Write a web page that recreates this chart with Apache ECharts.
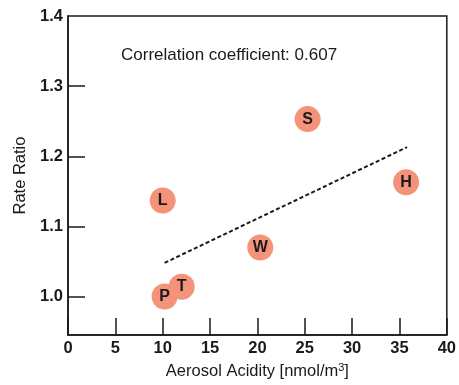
<!DOCTYPE html>
<html>
<head>
<meta charset="utf-8">
<script src="https://cdn.jsdelivr.net/npm/echarts@6/dist/echarts.min.js"></script>
<style>
  html, body { margin: 0; padding: 0; background: #fff; }
  #chart { width: 459px; height: 385px; }
</style>
</head>
<body>
<div id="chart"></div>
<script>
// Site labels, aerosol acidity (nmol/m3) and rate ratio per site
const sites = ['P', 'T', 'L', 'W', 'S', 'H'];
const acidity = [10.2, 12.0, 10.0, 20.3, 25.3, 35.7];
const rateRatio = [1.000, 1.014, 1.137, 1.070, 1.253, 1.163];

// Fitted trend line end points
const trendX = [10.2, 35.8];
const trendY = [1.048, 1.213];

const yTicks = [1.0, 1.1, 1.2, 1.3, 1.4];
const correlation = '0.607';

const FONT = '"Liberation Sans", Arial, Helvetica, sans-serif';
const INK = '#1a1a1a';

const chart = echarts.init(document.getElementById('chart'));

chart.setOption({
  animation: false,
  backgroundColor: '#fff',
  textStyle: { fontFamily: FONT },
  title: {
    text: 'Correlation coefficient: ' + correlation,
    left: 116,
    top: 42,
    textStyle: { fontFamily: FONT, fontSize: 17, fontWeight: 'normal', color: INK }
  },
  grid: {
    left: 68, right: 11, top: 16, bottom: 46,
    show: true, borderColor: INK, borderWidth: 1.5, backgroundColor: 'transparent'
  },
  xAxis: {
    type: 'value',
    min: 0, max: 40, interval: 5,
    name: 'Aerosol Acidity [nmol/m{sup|3}]',
    nameLocation: 'middle',
    nameGap: 26,
    nameTextStyle: {
      fontFamily: FONT, fontSize: 16.5, color: INK,
      rich: { sup: { fontFamily: FONT, fontSize: 11, color: INK, verticalAlign: 'top', padding: [0, 0, 8, 0] } }
    },
    axisLine: { show: true, lineStyle: { color: INK, width: 1.5 } },
    axisTick: { show: true, inside: true, length: 17, lineStyle: { color: INK, width: 1.5 } },
    axisLabel: { margin: 5, fontFamily: FONT, fontSize: 16.5, fontWeight: 'bold', color: INK },
    splitLine: { show: false }
  },
  yAxis: {
    type: 'value',
    min: 0.945, max: 1.4,
    name: 'Rate Ratio',
    nameLocation: 'middle',
    nameGap: 34,
    nameTextStyle: { fontFamily: FONT, fontSize: 16.5, color: INK },
    axisLine: { show: true, lineStyle: { color: INK, width: 1.5 } },
    axisTick: {
      show: true, inside: true, length: 17,
      customValues: yTicks.slice(0, 4),
      lineStyle: { color: INK, width: 1.5 }
    },
    axisLabel: {
      margin: 5, fontFamily: FONT, fontSize: 16.5, fontWeight: 'bold', color: INK,
      customValues: yTicks,
      formatter: v => Number(v).toFixed(1)
    },
    splitLine: { show: false }
  },
  series: [
    {
      type: 'line',
      data: trendX.map((x, i) => [x, trendY[i]]),
      symbol: 'none',
      lineStyle: { color: INK, width: 2, type: [4, 2.5] },
      z: 2
    },
    {
      type: 'scatter',
      data: sites.map((s, i) => ({ name: s, value: [acidity[i], rateRatio[i]] })),
      symbol: 'circle',
      symbolSize: 26,
      itemStyle: { color: '#f4927a', opacity: 1 },
      label: {
        show: true,
        position: 'inside',
        formatter: p => p.name,
        fontFamily: FONT,
        fontSize: 16,
        fontWeight: 'bold',
        color: INK
      },
      z: 3
    }
  ]
});
</script>
</body>
</html>
